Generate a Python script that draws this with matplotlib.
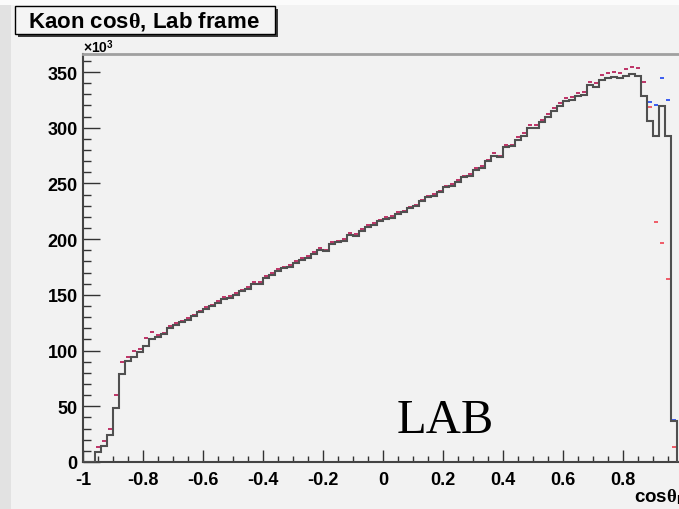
import numpy as np
import matplotlib
matplotlib.use("Agg")
import matplotlib.pyplot as plt
from matplotlib.patches import Rectangle

# histogram contents in units of 10^3, 100 bins on [-1, 1]
black_counts = [0, 0, 9.2, 14.7, 24.2, 48.2, 79.0, 90.4, 94.5, 98.4,
                104.4, 110.4, 112.5, 114.9, 120.3, 123.0, 125.4, 127.8, 130.8, 134.4,
                137.3, 139.8, 142.7, 146.3, 147.5, 150.2, 153.2, 155.3, 159.8, 159.8,
                165.2, 167.9, 171.7, 173.9, 175.3, 178.6, 181.6, 183.1, 186.7, 190.6,
                189.1, 195.7, 197.2, 198.7, 203.8, 203.2, 207.6, 211.2, 212.7, 216.0,
                218.1, 219.0, 222.6, 224.1, 227.7, 229.5, 234.0, 237.6, 239.1, 242.1,
                246.6, 248.0, 251.6, 255.6, 257.0, 262.4, 263.9, 269.9, 274.4, 273.5,
                282.5, 283.4, 289.3, 292.4, 299.5, 299.5, 304.9, 309.4, 315.4, 319.9,
                323.8, 325.2, 328.8, 329.4, 338.4, 336.3, 343.2, 344.4, 345.3, 344.4,
                346.7, 348.3, 346.2, 328.3, 306.4, 292.9, 319.3, 292.4, 36.8, 0]

red_counts = [0, 0.4, 13.2, 18.6, 29.6, 60.1, 90.0, 94.5, 99.3, 101.4,
              111.3, 116.4, 114.3, 115.8, 121.8, 124.5, 126.9, 129.3, 132.3, 135.9,
              138.8, 141.3, 144.2, 147.8, 149.0, 151.7, 154.7, 156.8, 161.3, 161.3,
              166.7, 169.4, 173.2, 175.4, 176.8, 180.1, 183.1, 184.6, 188.2, 192.1,
              190.6, 197.2, 198.7, 200.2, 205.3, 204.7, 209.1, 212.7, 214.2, 217.5,
              219.6, 220.5, 224.1, 225.6, 229.2, 231.0, 235.5, 239.1, 240.6, 243.6,
              248.1, 249.5, 253.1, 257.1, 258.5, 263.9, 265.4, 271.4, 277.4, 275.0,
              284.8, 284.8, 291.8, 294.9, 302.3, 302.3, 307.4, 311.9, 317.9, 322.4,
              326.3, 327.7, 331.3, 331.9, 341.4, 339.9, 347.4, 349.2, 350.4, 349.2,
              352.8, 354.8, 353.9, 340.8, 318.4, 215.2, 196.6, 164.0, 13.5, 0]

# blue sits under the red everywhere except the last bins
blue_tail = [322.9, 320.8, 344.7, 325.2, 37.7]
blue_counts = red_counts[:94] + blue_tail + red_counts[99:]

xticks = [-1, -0.8, -0.6, -0.4, -0.2, 0, 0.2, 0.4, 0.6, 0.8]
xticklabels = ['-1', '-0.8', '-0.6', '-0.4', '-0.2', '0', '0.2', '0.4', '0.6', '0.8']
yticks = [0, 50, 100, 150, 200, 250, 300, 350]

plt.rcParams['font.family'] = ['Liberation Sans', 'DejaVu Sans']
plt.rcParams['font.weight'] = 'bold'
plt.rcParams['axes.unicode_minus'] = False
plt.rcParams['mathtext.fontset'] = 'custom'
plt.rcParams['mathtext.rm'] = 'Liberation Serif'
plt.rcParams['mathtext.it'] = 'Liberation Serif:italic'
plt.rcParams['mathtext.bf'] = 'Liberation Sans:bold'

W, H = 679, 510
bg = '#f2f2f2'
fig = plt.figure(figsize=(W / 100, H / 100), dpi=100, facecolor=bg)

# light frame strips of the screenshot
fig.patches.append(Rectangle((0, 0), 11 / W, 1, transform=fig.transFigure,
                             facecolor='#e2e2e2', edgecolor='none', zorder=0))
fig.patches.append(Rectangle((0, 1 - 6 / H), 1, 6 / H, transform=fig.transFigure,
                             facecolor='#fbfbfb', edgecolor='none', zorder=0))

ax = fig.add_axes([83.3 / W, 47 / H, 600 / W, 408 / H])
ax.set_facecolor(bg)

edges = np.linspace(-1, 1, len(black_counts) + 1)
lo = edges[:-1] + 0.003
hi = edges[1:] - 0.003

ax.hlines(blue_counts, lo, hi, colors='#3a5cf0', lw=1.4, zorder=2)
ax.hlines(red_counts, lo, hi, colors='#ee2a3a', lw=1.4, alpha=0.75, zorder=3)
ax.stairs(black_counts, edges, color='#505050', lw=1.5, zorder=4)

ax.set_xlim(-1, 1)
ax.set_ylim(0, 366.2)
ax.set_xticks(xticks)
ax.set_xticklabels(xticklabels)
ax.set_xticks(np.arange(-1, 1.001, 0.05), minor=True)
ax.set_yticks(yticks)
ax.set_yticks(np.arange(0, 366, 10), minor=True)

ax.tick_params(axis='both', which='both', direction='in', colors='#333333',
               labelcolor='black', labelsize=13, width=1.0)
ax.tick_params(axis='x', which='major', length=8.6, pad=6.5)
ax.tick_params(axis='x', which='minor', length=4.3)
ax.tick_params(axis='y', which='major', length=12.2, pad=4)
ax.tick_params(axis='y', which='minor', length=5.8)
for lab in ax.get_xticklabels() + ax.get_yticklabels():
    lab.set_fontweight('bold')

for side in ['left', 'bottom']:
    ax.spines[side].set_color('#444444')
    ax.spines[side].set_linewidth(1.5)
ax.spines['top'].set_color('#a0a0a0')
ax.spines['top'].set_linewidth(2.0)
ax.spines['right'].set_color('#a0a0a0')
ax.spines['right'].set_linewidth(2.0)

fig.text(83 / W, 1 - 53 / H, r'×10$^{\mathbf{3}}$', fontsize=10,
         fontweight='bold', va='baseline', ha='left')

# title box with shadow
fig.patches.append(Rectangle((18 / W, 1 - 38 / H), 260 / W, 28 / H,
                             transform=fig.transFigure, facecolor='#3a3a3a',
                             edgecolor='none', zorder=5))
fig.patches.append(Rectangle((15 / W, 1 - 35 / H), 260 / W, 28 / H,
                             transform=fig.transFigure, facecolor='#f4f4f4',
                             edgecolor='black', lw=1.0, zorder=6))
fig.text(144 / W, 1 - 21.5 / H, r'Kaon cos$\mathrm{\theta}$, Lab frame',
         fontsize=16, fontweight='bold', ha='center', va='center', zorder=7)

# x axis title, cut at the right border like the screenshot
fig.text(688 / W, 1 - 502 / H, r'cos$\mathrm{\theta}_{\mathbf{K}}$',
         fontsize=13.5, fontweight='bold', ha='right', va='baseline')

ax.text(0.045, 27, 'LAB', fontsize=35, fontweight='normal',
        family='Liberation Serif', ha='left', va='baseline', color='black')

fig.savefig('out.png', dpi=100, facecolor=bg)
